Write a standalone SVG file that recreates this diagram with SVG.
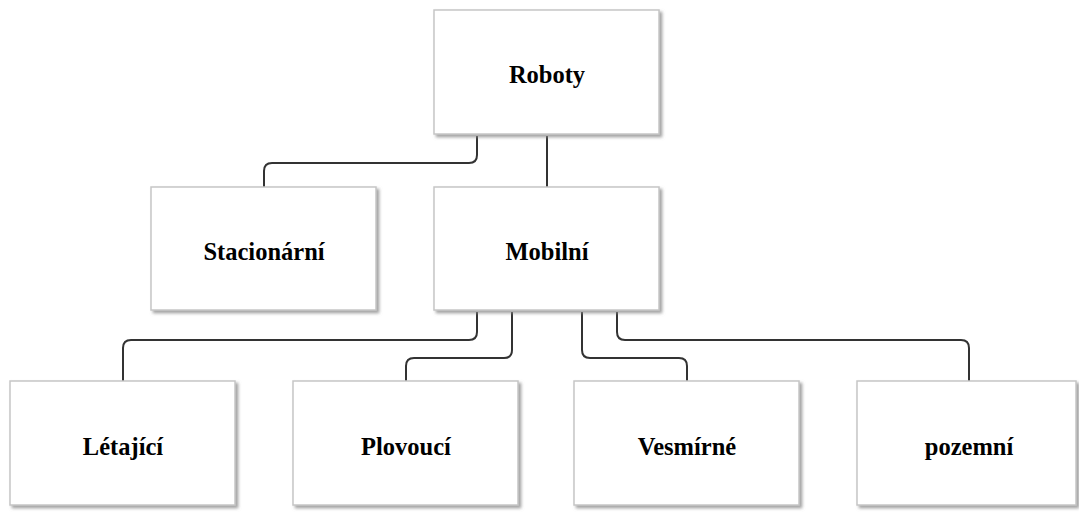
<svg xmlns="http://www.w3.org/2000/svg" width="1079" height="512" viewBox="0 0 1079 512">
<defs>
<filter id="sh" x="-5%" y="-5%" width="115%" height="115%">
<feDropShadow dx="2.5" dy="2.5" stdDeviation="1.5" flood-color="#8a8a8a" flood-opacity="0.8"/>
</filter>
<style>
.box{fill:#ffffff;stroke:#c6c6c6;stroke-width:1.5;filter:url(#sh)}
.lbl{font-family:'Liberation Serif','Times New Roman',serif;font-weight:bold;font-size:24.5px;fill:#000;text-anchor:middle}
.con{fill:none;stroke:#333333;stroke-width:2}
</style>
</defs>
<rect width="1079" height="512" fill="#ffffff"/>
<g id="connectors">
<path class="con" d="M477,136 V155 Q477,163 469,163 H272 Q264,163 264,171 V187"/>
<path class="con" d="M547,136 V187"/>
<path class="con" d="M477,312 V332 Q477,340 469,340 H131 Q123,340 123,348 V381"/>
<path class="con" d="M512,312 V350 Q512,358 504,358 H414 Q406,358 406,366 V381"/>
<path class="con" d="M582,312 V350 Q582,358 590,358 H679 Q687,358 687,366 V381"/>
<path class="con" d="M617,312 V332 Q617,340 625,340 H961 Q969,340 969,348 V381"/>
</g>
<g id="roboty"><rect class="box" x="434" y="10" width="225" height="124"/><text class="lbl" x="547" y="83">Roboty</text></g>
<g id="stacionarni"><rect class="box" x="151" y="187" width="225" height="123"/><text class="lbl" x="264" y="260">Stacionární</text></g>
<g id="mobilni"><rect class="box" x="434" y="187" width="225" height="123"/><text class="lbl" x="547" y="260">Mobilní</text></g>
<g id="letajici"><rect class="box" x="10" y="381" width="225" height="124"/><text class="lbl" x="123" y="455">Létající</text></g>
<g id="plovouci"><rect class="box" x="293" y="381" width="225" height="124"/><text class="lbl" x="406" y="455">Plovoucí</text></g>
<g id="vesmirne"><rect class="box" x="574" y="381" width="225" height="124"/><text class="lbl" x="687" y="455">Vesmírné</text></g>
<g id="pozemni"><rect class="box" x="857" y="381" width="219" height="124"/><text class="lbl" x="969" y="455">pozemní</text></g>
</svg>
